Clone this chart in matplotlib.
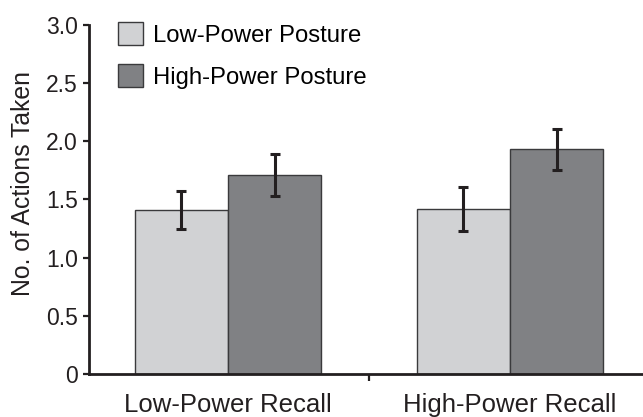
import numpy as np
import matplotlib.pyplot as plt
from matplotlib.ticker import FixedLocator

plt.rcParams['font.family'] = ['Liberation Sans', 'DejaVu Sans']

# mean number of actions taken, by recall condition and posture
conditions = ["Low-Power Recall", "High-Power Recall"]
low_posture = [1.41, 1.42]
high_posture = [1.71, 1.93]
low_err = [0.16, 0.19]
high_err = [0.18, 0.18]

ink = '#231f20'
x = np.arange(len(conditions))
w = 0.33

fig = plt.figure(figsize=(6.43, 4.17), dpi=100)
ax = fig.add_axes([0.1384, 0.1031, 0.8616, 0.837])

err_kw = dict(ecolor=ink, elinewidth=2.2, capsize=3.6, capthick=2.2)
ax.bar(x - w/2, low_posture, w, yerr=low_err, color='#d1d2d4', edgecolor='#3a3a3c',
       linewidth=1.0, label="Low-Power Posture", error_kw=err_kw)
ax.bar(x + w/2, high_posture, w, yerr=high_err, color='#808184', edgecolor='#3a3a3c',
       linewidth=1.0, label="High-Power Posture", error_kw=err_kw)

ax.set_xlim(-0.493, 1.4716)
ax.set_ylim(0, 3.0)
ax.set_yticks([0, 0.5, 1.0, 1.5, 2.0, 2.5, 3.0])
ax.set_yticklabels(["0", "0.5", "1.0", "1.5", "2.0", "2.5", "3.0"])
ax.set_xticks(x)
ax.set_xticklabels(conditions)
ax.xaxis.set_minor_locator(FixedLocator([0.5]))

for s in ['top', 'right']:
    ax.spines[s].set_visible(False)
for s in ['left', 'bottom']:
    ax.spines[s].set_linewidth(2.0)
    ax.spines[s].set_color(ink)

ax.tick_params(axis='y', length=4, width=1.6, color=ink, pad=4, labelsize=16.5, labelcolor=ink)
ax.tick_params(axis='x', which='major', length=0, pad=14, labelsize=18.5, labelcolor=ink)
ax.tick_params(axis='x', which='minor', length=5, width=1.6, color=ink)

ax.set_ylabel("No. of Actions Taken", fontsize=17.8, color=ink)
ax.yaxis.set_label_coords(-0.098, 0.547)

ax.legend(loc='upper left', bbox_to_anchor=(0.035, 1.035), frameon=False,
          fontsize=17.2, handlelength=1.05, handleheight=1.1, handletextpad=0.42,
          labelspacing=0.72, borderaxespad=0)

fig.savefig("out.png", dpi=100)
